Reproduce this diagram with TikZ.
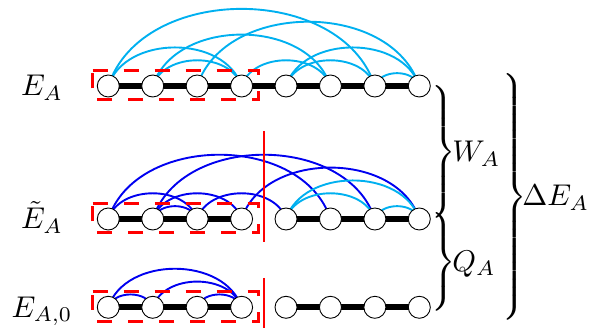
\documentclass[tikz,border=0pt]{standalone}
\usetikzlibrary{backgrounds}
\definecolor{lblue}{RGB}{0,176,240}
\definecolor{dblue}{RGB}{0,0,240}
\definecolor{myred}{RGB}{255,0,0}
\newcommand{\mybrace}[1]{$\delimitershortfall=0pt\delimiterfactor=1000\left.\vcenter{\hbox{\rule{0pt}{#1}}}\right\}$}
\tikzset{
  vert/.style={circle, draw=black, line width=0.9pt, fill=white, minimum size=22pt, inner sep=0pt},
  chainline/.style={line width=6pt, black},
  arcl/.style={line width=1.9pt, lblue},
  arcd/.style={line width=1.9pt, dblue},
  hop/.style={out=72, in=108, looseness=1.04},
  subset/.style={myred, line width=3pt, dash pattern=on 15pt off 16pt},
  cutline/.style={myred, line width=2.4pt},
  lab/.style={scale=3.0, inner sep=0pt},
  brc/.style={scale=2.75, inner sep=0pt, anchor=west}
}
\begin{document}
\begin{tikzpicture}[x=1pt, y=1pt]
\useasboundingbox (0,0) rectangle (598,329);
% rows of nodes
\foreach \i in {1,...,8} {
  \node[vert] (t\i) at ({108.3+44.43*(\i-1)},243) {};
  \node[vert] (m\i) at ({108.3+44.43*(\i-1)},110) {};
  \node[vert] (b\i) at ({108.3+44.43*(\i-1)},21.7) {};
}
\begin{scope}[on background layer]
  \draw[chainline] (t1.center) -- (t8.center);
  \draw[chainline] (m1.center) -- (m4.center);
  \draw[chainline] (m5.center) -- (m8.center);
  \draw[chainline] (b1.center) -- (b4.center);
  \draw[chainline] (b5.center) -- (b8.center);
  \foreach \a/\b in {1/7,3/8,2/6,1/4,5/8,2/4,4/6,5/7,7/8}
    \draw[arcl] (t\a.center) to[hop] (t\b.center);
  \foreach \a/\b in {1/6,2/7,1/3,2/3,2/4,3/5,4/8}
    \draw[arcd] (m\a.center) to[hop] (m\b.center);
  \foreach \a/\b in {5/7,5/8,7/8}
    \draw[arcl] (m\a.center) to[hop] (m\b.center);
  \foreach \a/\b in {1/2,1/4,2/4,3/4}
    \draw[arcd] (b\a.center) to[hop] (b\b.center);
\end{scope}
% dashed subsets
\draw[subset] (92.7,258.3) -- (258.3,258.3) -- (258.3,229) -- (92.7,229) -- cycle;
\draw[subset] (92.7,125.3) -- (258.3,125.3) -- (258.3,96) -- (92.7,96) -- cycle;
\draw[subset] (92.7,37) -- (258.3,37) -- (258.3,7.7) -- (92.7,7.7) -- cycle;
% cut lines
\draw[cutline] (264,198) -- (264,87);
\draw[cutline] (264,51) -- (264,1);
% row labels
\node[lab, anchor=base] (lE) at (42,233.3) {$E_A$};
\node[lab, anchor=base] (lEt) at (42,100) {$\tilde{E}_A$};
\node[lab, anchor=base] (lE0) at (42,11.5) {$E_{A,0}$};
% braces
\node[brc] (bw) at (428,177) {\mybrace{48pt}};
\node[brc] (bq) at (428,67) {\mybrace{32pt}};
\node[brc] (bd) at (499,132) {\mybrace{85pt}};
\node[lab, anchor=west] (tw) at ([xshift=-5pt,yshift=-2pt]bw.east) {$W_A$};
\node[lab, anchor=west] (tq) at ([xshift=-5pt,yshift=-2pt]bq.east) {$Q_A$};
\node[lab, anchor=west] (td) at ([xshift=-6pt,yshift=-1pt]bd.east) {$\Delta E_A$};
\end{tikzpicture}
\end{document}
